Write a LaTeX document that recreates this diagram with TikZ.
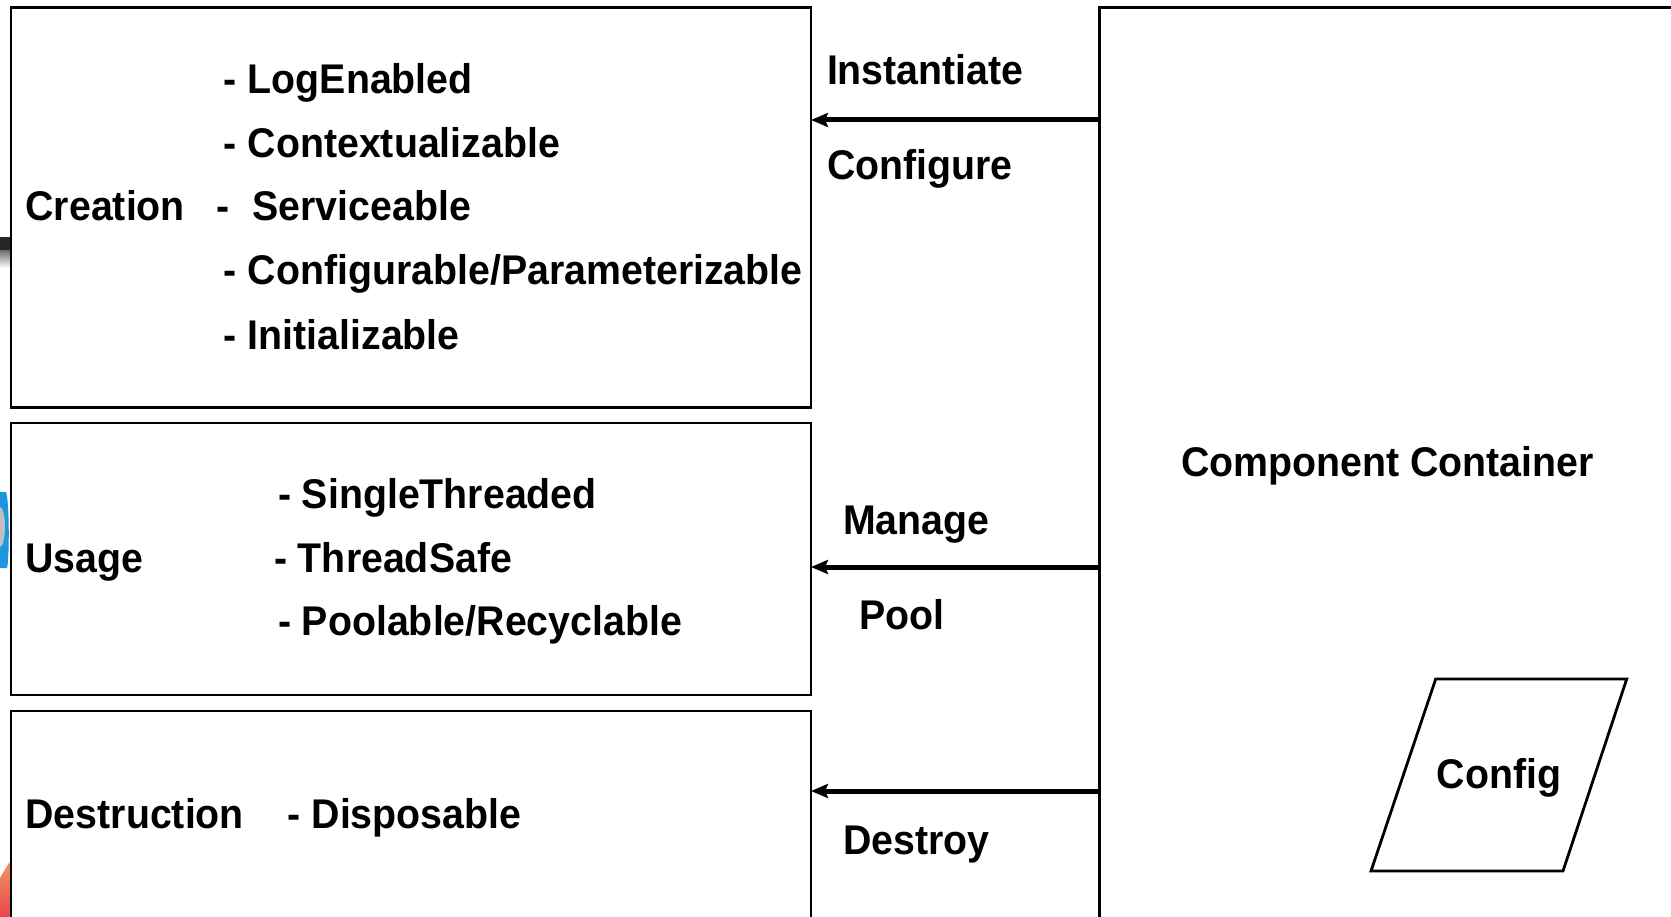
\documentclass[tikz,border=0pt]{standalone}
\usepackage{fontspec}
\setmainfont{Liberation Sans}[FakeStretch=0.947]
\usetikzlibrary{arrows.meta}

\definecolor{edgeblue}{RGB}{28,150,222}
\definecolor{edgered}{RGB}{232,70,80}
\definecolor{edgeorange}{RGB}{240,150,90}

\begin{document}
\begin{tikzpicture}[x=1pt,y=-1pt,
  box/.style={draw, line width=2.8pt, anchor=north west, inner sep=0pt, outer sep=0pt},
  lbl/.style={anchor=base west, inner sep=0pt, outer sep=0pt,
              font=\fontsize{41.5}{46}\selectfont\bfseries},
  arr/.style={line width=5pt, -{Stealth[length=17pt,width=14pt,inset=3pt]}},
]
\useasboundingbox (0,0) rectangle (1671,917);
\clip (0,0) rectangle (1671,917);
\fill[white] (0,0) rectangle (1671,917);

% remnants of the slide background along the left edge
\fill[black!85] (0,237) rectangle (9.5,251);
\shade[top color=black!55, bottom color=white] (0,251) rectangle (9.5,268);
\fill[edgeblue] (0,492) -- (6,492) .. controls (9.5,500) and (9.5,560) .. (7,568) -- (0,568) -- cycle;
\fill[black!25] (0,527) ellipse [x radius=5, y radius=20];
\shade[top color=edgeorange, bottom color=edgered] (0,878) -- (9.5,862) -- (9.5,917) -- (0,917) -- cycle;

% lifecycle phase boxes
\node[box, minimum width=800pt, minimum height=400pt] (creation) at (11,7.5) {};
\node[box, minimum width=800pt, minimum height=272pt] (usage) at (11,423) {};
\node[box, minimum width=800pt, minimum height=300pt] (destruction) at (11,711) {};

% container
\node[box, line width=3pt, minimum width=620pt, minimum height=1000pt] (container) at (1099,7.5) {};

% creation phase
\node[lbl] (tcreation) at (25.6,221) {Creation};
\node[lbl] (log) at (223.8,94) {- LogEnabled};
\node[lbl] (ctx) at (223.8,158) {- Contextualizable};
\node[lbl] (dashsrv) at (216.3,221) {-};
\node[lbl] (srv) at (252.6,221) {Serviceable};
\node[lbl] (cfg) at (223.8,285) {- Configurable/Parameterizable};
\node[lbl] (init) at (223.8,349) {- Initializable};

% usage phase
\node[lbl] (tusage) at (25.6,572) {Usage};
\node[lbl] (single) at (278,508) {- SingleThreaded};
\node[lbl] (tsafe) at (274,572) {- ThreadSafe};
\node[lbl] (pool) at (278,635) {- Poolable/Recyclable};

% destruction phase
\node[lbl] (tdestr) at (25.6,828) {Destruction};
\node[lbl] (disp) at (287.7,828) {- Disposable};

% container label and configuration
\node[lbl] (tcont) at (1181,476) {Component Container};
\coordinate (p1) at (1435.7,679);
\coordinate (p2) at (1626.7,679);
\coordinate (p3) at (1563,871);
\coordinate (p4) at (1371,871);
\draw[line width=2.8pt, line join=miter] (p1) -- (p2) -- (p3) -- (p4) -- cycle;
\node[lbl, anchor=base] (config) at (1499,788) {Config};

% container actions
\coordinate (y1) at (0,120);
\coordinate (y2) at (0,567);
\coordinate (y3) at (0,791);
\draw[arr] (container.west |- y1) -- (creation.east |- y1);
\draw[arr] (container.west |- y2) -- (usage.east |- y2);
\draw[arr] (container.west |- y3) -- (destruction.east |- y3);

\node[lbl] (inst) at (827,85) {Instantiate};
\node[lbl] (conf) at (827,180) {Configure};
\node[lbl] (manage) at (843,534) {Manage};
\node[lbl] (tpool) at (859,629) {Pool};
\node[lbl] (destroy) at (843,854) {Destroy};
\end{tikzpicture}
\end{document}
